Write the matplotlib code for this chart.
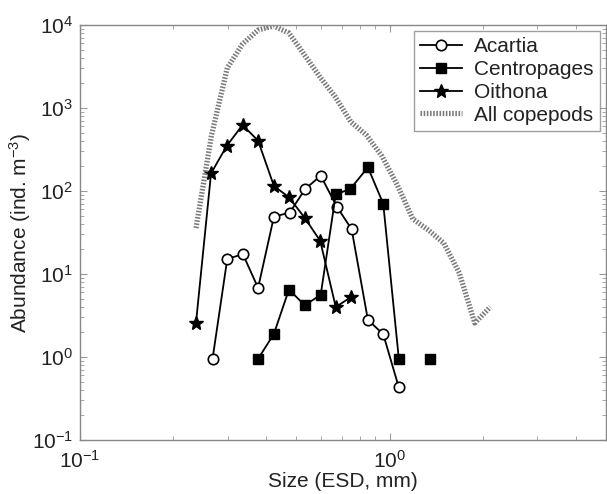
import numpy as np
import matplotlib
matplotlib.use("Agg")
import matplotlib.pyplot as plt
from matplotlib.ticker import LogLocator, LogFormatterMathtext, NullFormatter

plt.rcParams['font.family'] = ['Liberation Sans', 'DejaVu Sans']
plt.rcParams['mathtext.fontset'] = 'custom'
plt.rcParams['mathtext.rm'] = 'Liberation Sans'
plt.rcParams['mathtext.it'] = 'Liberation Sans:italic'
plt.rcParams['mathtext.bf'] = 'Liberation Sans:bold'

# Data (size in mm ESD, abundance in ind. m^-3)
acartia_x = [0.268, 0.299, 0.336, 0.376, 0.423, 0.476, 0.533, 0.599, 0.675, 0.754, 0.851, 0.954, 1.071]
acartia_y = [0.95, 15.2, 17.3, 6.8, 49, 55, 105, 153, 65, 34.6, 2.8, 1.88, 0.43]

centro_x = [0.376, 0.423, 0.473, 0.532, 0.599, 0.670, 0.747, 0.851, 0.954, 1.071, 1.20, 1.349]
centro_y = [0.95, 1.9, 6.5, 4.2, 5.6, 91, 106, 193, 70, 0.95, np.nan, 0.95]

oithona_x = [0.237, 0.265, 0.298, 0.335, 0.376, 0.423, 0.473, 0.533, 0.597, 0.670, 0.752]
oithona_y = [2.6, 163, 351, 624, 404, 115, 84, 47, 25, 4.0, 5.3]

all_x = [0.237, 0.266, 0.299, 0.335, 0.376, 0.422, 0.473, 0.531, 0.596, 0.668,
         0.750, 0.841, 0.944, 1.059, 1.189, 1.334, 1.496, 1.679, 1.884, 2.113]
all_y = [35.8, 473, 3033, 5900, 8700, 9730, 8010, 4360, 2360, 1357,
         678, 473, 264, 118, 46, 33.9, 23.6, 10.3, 2.57, 4.0]

xticks = [0.1, 1.0]
yticks = [0.1, 1, 10, 100, 1000, 10000]

fig = plt.figure(figsize=(6.07, 4.94), dpi=100)
ax = fig.add_axes([80/607, 54/494, 526/607, 415/494])

lw = 1.3
ax.plot(acartia_x, acartia_y, '-o', color='black', lw=lw, ms=7.5,
        mfc='white', mec='black', mew=1.2, label='Acartia')
ax.plot(centro_x, centro_y, '-s', color='black', lw=lw, ms=7.5,
        mfc='black', mec='black', label='Centropages')
ax.plot(oithona_x, oithona_y, '-*', color='black', lw=lw, ms=10.5,
        mfc='black', mec='black', label='Oithona')
ax.plot(all_x, all_y, color='#7a7a7a', lw=3.8, linestyle=(0, (0.3, 0.3)),
        label='All copepods')

ax.set_xscale('log')
ax.set_yscale('log')
ax.set_xlim(0.1, 5)
ax.set_ylim(0.1, 10000)
ax.set_xticks(xticks)
ax.set_yticks(yticks)
ax.xaxis.set_major_formatter(LogFormatterMathtext())
ax.yaxis.set_major_formatter(LogFormatterMathtext())
ax.xaxis.set_minor_locator(LogLocator(base=10, subs=np.arange(2, 10)))
ax.yaxis.set_minor_locator(LogLocator(base=10, subs=np.arange(2, 10)))
ax.xaxis.set_minor_formatter(NullFormatter())
ax.yaxis.set_minor_formatter(NullFormatter())

for s in ax.spines.values():
    s.set_color('#888888')
    s.set_linewidth(1.0)
ax.tick_params(which='both', direction='in', top=True, right=True,
               color='#999999', labelsize=15, labelcolor='#222222')
ax.tick_params(which='major', length=5)
ax.tick_params(which='minor', length=3)
ax.tick_params(axis='x', pad=7)
ax.tick_params(axis='y', pad=5)

ax.set_xlabel('Size (ESD, mm)', fontsize=15, color='#222222', labelpad=0)
ax.set_ylabel('Abundance (ind. m$^{-3}$)', fontsize=15, color='#222222')
ax.yaxis.set_label_coords(-0.089, 0.5)

leg = ax.legend(loc='upper right', fontsize=15, frameon=True, fancybox=False,
                edgecolor='#888888', borderaxespad=0.3, labelspacing=0.18,
                handlelength=2.0, handletextpad=0.6, borderpad=0.3)
leg.get_frame().set_linewidth(1.0)
for t in leg.get_texts():
    t.set_color('#222222')

fig.savefig('out.png', dpi=100)
